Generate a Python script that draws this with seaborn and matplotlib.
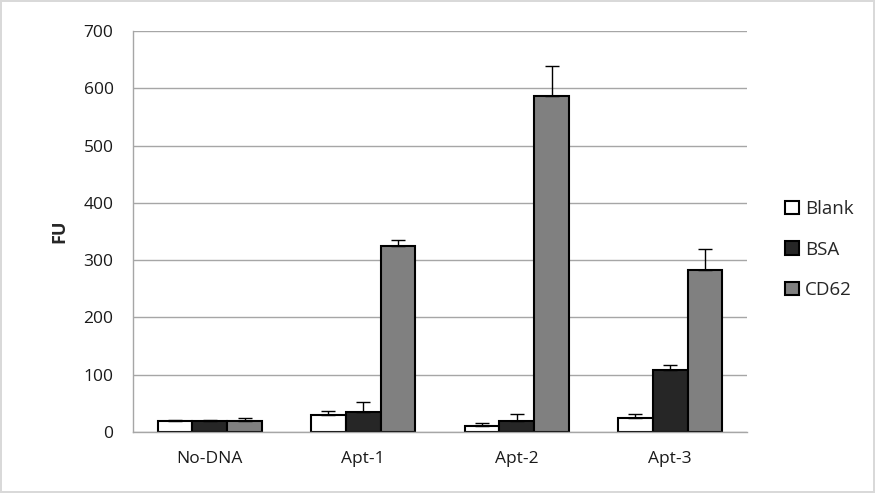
import pandas as pd
import matplotlib.pyplot as plt
import seaborn as sns

# Dados
groups = ['No-DNA', 'Apt-1', 'Apt-2', 'Apt-3']
conditions = ['Blank', 'BSA', 'CD62']
blank = [19, 30, 11, 25]
bsa = [19, 35, 19, 109]
cd62 = [19, 325, 587, 282]
blank_err = [2, 6, 5, 7]
bsa_err = [2, 17, 12, 8]
cd62_err = [5, 10, 52, 38]

colors = ['#ffffff', '#262626', '#808080']

df = pd.DataFrame({
    'Group': groups * 3,
    'Condition': [c for c in conditions for _ in groups],
    'FU': blank + bsa + cd62,
})
errors = [blank_err, bsa_err, cd62_err]

sns.set_style('white')
plt.rcParams['font.family'] = ['Open Sans', 'DejaVu Sans']

fig = plt.figure(figsize=(8.75, 4.93), dpi=100)
fig.patch.set_edgecolor('#d9d9d9')
fig.patch.set_linewidth(1.5)
ax = fig.add_axes([133 / 875, 61 / 493, 614 / 875, 401 / 493])

sns.barplot(data=df, x='Group', y='FU', hue='Condition', order=groups,
            hue_order=conditions, palette=colors, width=0.68, gap=0,
            edgecolor='black', linewidth=1.5, errorbar=None, ax=ax)

# Barras de erro (apenas para cima, estilo Excel)
for cont, err in zip(ax.containers, errors):
    xs = [b.get_x() + b.get_width() / 2 for b in cont]
    ys = [b.get_height() for b in cont]
    ax.errorbar(xs, ys, yerr=[[0] * len(err), err], fmt='none',
                ecolor='black', elinewidth=1, capsize=5, capthick=1)

ax.set_ylim(0, 700)
ax.set_xlim(-0.5, 3.5)
ax.set_yticks(range(0, 701, 100))
ax.yaxis.grid(True, color='#a6a6a6', linewidth=1)
ax.set_axisbelow(True)
ax.set_xlabel('')
ax.set_ylabel('FU', fontsize=13, fontweight='bold', labelpad=11)
ax.tick_params(axis='y', labelsize=12.5, labelcolor='#1a1a1a', length=8,
               color='#a6a6a6', direction='out', pad=6)
ax.tick_params(axis='x', which='major', labelsize=12.5, labelcolor='#1a1a1a',
               length=0, pad=14)
ax.set_xticks([-0.5, 0.5, 1.5, 2.5, 3.5], minor=True)
ax.tick_params(axis='x', which='minor', length=8, color='#a6a6a6', direction='out')
for side in ['top', 'right']:
    ax.spines[side].set_visible(False)
for side in ['left', 'bottom']:
    ax.spines[side].set_color('#a6a6a6')
    ax.spines[side].set_linewidth(1)

ax.legend(loc='center left', bbox_to_anchor=(1.035, 0.455), frameon=False,
          fontsize=13.5, handlelength=0.75, handleheight=0.75, labelspacing=1.2,
          handletextpad=0.3)

fig.savefig('out.png', dpi=100, edgecolor=fig.get_edgecolor())
